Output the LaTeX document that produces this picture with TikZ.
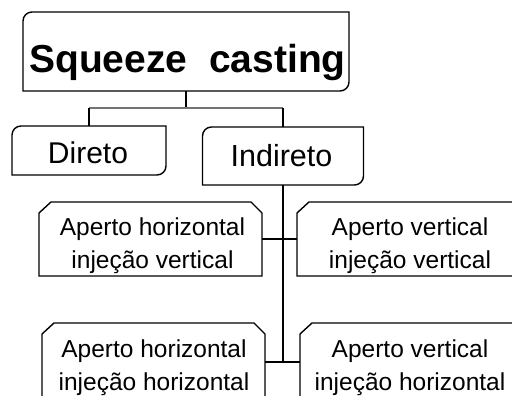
\documentclass[tikz,border=0pt]{standalone}
\usepackage{fontspec}
\setmainfont{Liberation Sans}
\begin{document}
\begin{tikzpicture}[x=1pt,y=-1pt,
  boxnode/.style={draw=none,inner sep=0pt,outer sep=0pt,rectangle},
  outline/.style={line width=1.4pt,black},
  lbl/.style={inner sep=0pt,outer sep=0pt,anchor=base,font=\fontsize{24.5}{33}\selectfont,align=center},
  conn/.style={line width=1.1pt,black},
  trunk/.style={line width=2.6pt,black},
  grayconn/.style={line width=2pt,black!55}
]
\useasboundingbox (0,0) rectangle (512,396);
\clip (0,0) rectangle (512,396);

% box placeholders
\node[boxnode,minimum width=326pt,minimum height=79pt] (top) at (186,51.5) {};
\node[boxnode,minimum width=154pt,minimum height=49pt] (direto) at (89,150.5) {};
\node[boxnode,minimum width=161pt,minimum height=58pt] (indireto) at (283,156) {};
\node[boxnode,minimum width=223pt,minimum height=74pt] (al1) at (150.5,239) {};
\node[boxnode,minimum width=228pt,minimum height=74pt] (ar1) at (411,239) {};
\node[boxnode,minimum width=223pt,minimum height=78pt] (al2) at (153.5,362) {};
\node[boxnode,minimum width=228pt,minimum height=78pt] (ar2) at (414,362) {};

% rounded outlines (top-left and bottom-right rounded)
\foreach \n in {top,direto,indireto}{
  \draw[outline] (\n.south west) -- ([yshift=-9pt]\n.north west)
    arc[start angle=180,end angle=90,radius=9pt]
    -- (\n.north east) -- ([yshift=9pt]\n.south east)
    arc[start angle=0,end angle=-90,radius=9pt] -- cycle;
}
% chamfered outlines (top corners cut)
\foreach \n in {al1,ar1,al2,ar2}{
  \draw[outline] (\n.south west) -- ([yshift=-11pt]\n.north west)
    -- ([xshift=12pt]\n.north west) -- ([xshift=-11pt]\n.north east)
    -- ([yshift=-11pt]\n.north east) -- (\n.south east) -- cycle;
}

% texts (base anchor = baseline of the last line)
\node[lbl,font=\fontsize{39}{44}\selectfont\bfseries] (ttop) at (187.5,73) {Squeeze\ \ casting};
\node[lbl,font=\fontsize{30}{36}\selectfont] (tdireto) at (88,163) {Direto};
\node[lbl,font=\fontsize{30.5}{36}\selectfont] (tindireto) at (281.5,167) {Indireto};
\node[lbl] (tal1) at (152.5,268) {Aperto horizontal\\injeção vertical};
\node[lbl] (tar1) at (410,268) {Aperto vertical\\injeção vertical};
\node[lbl] (tal2) at (154,390) {Aperto horizontal\\injeção horizontal};
\node[lbl] (tar2) at (410,390) {Aperto vertical\\injeção horizontal};

% connectors
\coordinate (hub) at ([yshift=-17pt]top.south);
\draw[trunk,line width=2.2pt] (top.south) -- (hub);
\draw[grayconn] (hub -| direto.north) -- (hub -| indireto.north);
\draw[conn,line width=1.5pt] (hub -| direto.north) -- (direto.north);
\draw[conn,line width=1.5pt] (hub -| indireto.north) -- (indireto.north);
\coordinate (j2) at (indireto.south |- al2.east);
\draw[trunk] (indireto.south) -- (j2);
\draw[conn] (al1.east) -- (ar1.west);
\draw[conn] (al2.east) -- (ar2.west);
\end{tikzpicture}
\end{document}
